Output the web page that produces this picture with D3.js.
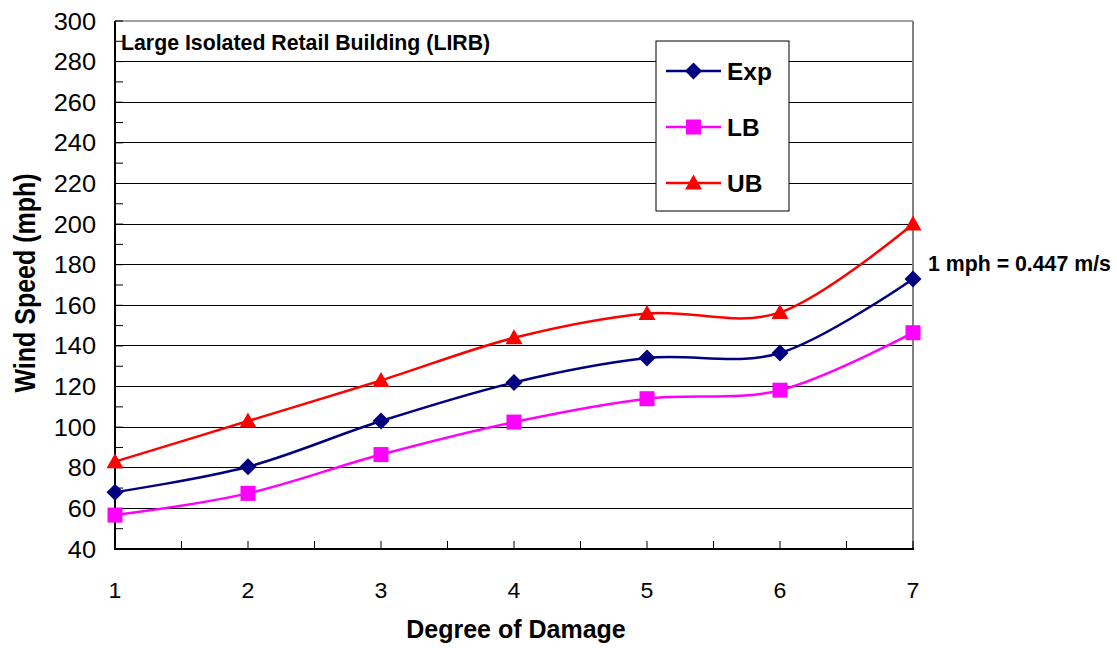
<!DOCTYPE html>
<html><head><meta charset="utf-8">
<script src="https://cdn.jsdelivr.net/npm/d3@7"></script>
<style>body{margin:0;background:#fff}svg{display:block;font-family:Arial,"Liberation Sans",sans-serif}</style>
</head><body><svg id="c" width="1117" height="648"></svg>
<script>
const categories=[1,2,3,4,5,6,7];
const expValues=[68,80.5,103,122,134,136.5,173];
const lbValues=[56.7,67.4,86.5,102.5,114,118.2,146.5];
const ubValues=[83,103,123,144,156,156.5,200];
const yTicks=[40,60,80,100,120,140,160,180,200,220,240,260,280,300];
const seriesNames=["Exp","LB","UB"];
const seriesColors=["#000080","#FF00FF","#FF0000"];
const seriesSymbols=["diamond","square","triangle"];

const svg=d3.select("#c");
const L=115,R=913,T=21,B=549;
const x=d3.scaleLinear().domain([1,7]).range([L,R]);
const y=d3.scaleLinear().domain([40,300]).range([B,T]);

// gridlines
svg.append("g").selectAll("line").data(yTicks.filter(v=>v>40&&v<300)).join("line")
 .attr("x1",L).attr("x2",R).attr("y1",d=>y(d)).attr("y2",d=>y(d))
 .attr("stroke","#000").attr("stroke-width",1).attr("shape-rendering","crispEdges");
// border top/right
svg.append("line").attr("x1",L).attr("x2",R).attr("y1",T).attr("y2",T).attr("stroke","#808080").attr("stroke-width",1.5);
svg.append("line").attr("x1",R).attr("x2",R).attr("y1",T).attr("y2",B).attr("stroke","#808080").attr("stroke-width",2);

// minor y ticks (inside)
const yMinor=d3.range(40,301,10);
svg.append("g").selectAll("line").data(yMinor).join("line")
 .attr("x1",L).attr("x2",L+8).attr("y1",d=>y(d)).attr("y2",d=>y(d))
 .attr("stroke","#000").attr("stroke-width",1);
// x ticks
const xMinor=d3.range(1,7.01,0.5);
svg.append("g").selectAll("line").data(xMinor).join("line")
 .attr("x1",d=>x(d)).attr("x2",d=>x(d)).attr("y1",B).attr("y2",B-8)
 .attr("stroke","#000").attr("stroke-width",1);

// axes lines
svg.append("line").attr("x1",L).attr("x2",L).attr("y1",T).attr("y2",B+1).attr("stroke","#000").attr("stroke-width",2);
svg.append("line").attr("x1",L-1).attr("x2",R+1).attr("y1",B).attr("y2",B).attr("stroke","#000").attr("stroke-width",2);

// tick labels
svg.append("g").selectAll("text").data(yTicks).join("text")
 .attr("transform",d=>`translate(96,${y(d)+8.5}) scale(1.08,1)`).attr("text-anchor","end")
 .attr("font-size",23.5).text(d=>d);
svg.append("g").selectAll("text").data(categories).join("text")
 .attr("transform",d=>`translate(${x(d)},598) scale(1.05,1)`).attr("text-anchor","middle")
 .attr("font-size",22).text(d=>d);

// axis titles
svg.append("text").attr("x",516).attr("y",638).attr("text-anchor","middle")
 .attr("font-size",25).attr("font-weight","bold").text("Degree of Damage");
svg.append("text").attr("transform","translate(35,283) scale(1.2,1) rotate(-90)").attr("text-anchor","middle")
 .attr("font-size",25).attr("font-weight","bold").text("Wind Speed (mph)");

// title & annotation
svg.append("text").attr("x",121).attr("y",50).attr("font-size",21.3).attr("font-weight","bold")
 .text("Large Isolated Retail Building (LIRB)");
svg.append("text").attr("x",928).attr("y",271).attr("font-size",21.3).attr("font-weight","bold")
 .text("1 mph = 0.447 m/s");

const allSeries=[expValues,lbValues,ubValues];
const line=d3.line().x((d,i)=>x(categories[i])).y(d=>y(d)).curve(d3.curveCatmullRom.alpha(0));

function marker(g,sym,color,cx,cy){
  if(sym==="diamond") g.append("path").attr("d",`M${cx},${cy-8.5}L${cx+8.5},${cy}L${cx},${cy+8.5}L${cx-8.5},${cy}Z`).attr("fill",color);
  else if(sym==="square") g.append("rect").attr("x",cx-7.5).attr("y",cy-7.5).attr("width",15).attr("height",15).attr("fill",color);
  else g.append("path").attr("d",`M${cx},${cy-8.5}L${cx+8.5},${cy+6.5}L${cx-8.5},${cy+6.5}Z`).attr("fill",color);
}

allSeries.forEach((vals,si)=>{
  svg.append("path").datum(vals).attr("d",line).attr("fill","none")
   .attr("stroke",seriesColors[si]).attr("stroke-width",2.5);
  const g=svg.append("g");
  vals.forEach((v,i)=>marker(g,seriesSymbols[si],seriesColors[si],x(categories[i]),y(v)));
});

// legend
const lg=svg.append("g");
lg.append("rect").attr("x",656).attr("y",41).attr("width",133).attr("height",170)
 .attr("fill","#fff").attr("stroke","#000").attr("stroke-width",1);
const legY=[71,127,183];
seriesNames.forEach((n,i)=>{
  lg.append("line").attr("x1",666).attr("x2",721).attr("y1",legY[i]).attr("y2",legY[i])
   .attr("stroke",seriesColors[i]).attr("stroke-width",2.5);
  marker(lg,seriesSymbols[i],seriesColors[i],693.5,legY[i]);
  lg.append("text").attr("x",727).attr("y",legY[i]+8.5).attr("font-size",24.5).attr("font-weight","bold").text(n);
});
</script></body></html>
